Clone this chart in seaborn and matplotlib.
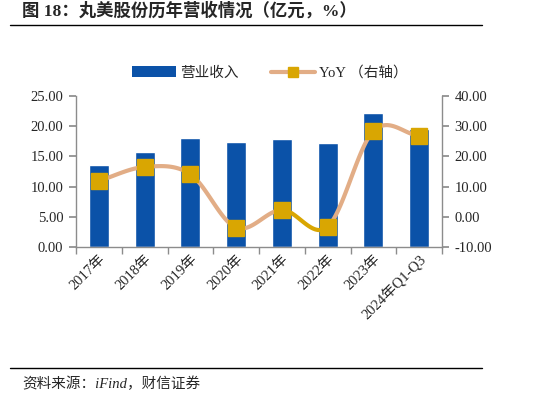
import numpy as np
import matplotlib
matplotlib.use("Agg")
import matplotlib.pyplot as plt
import seaborn as sns
from matplotlib.patches import Patch
from matplotlib.lines import Line2D

sns.set_theme(style="white")
plt.rcParams["font.family"] = ["Liberation Serif", "Noto Sans CJK SC"]

# --- data ---
years = ["2017年", "2018年", "2019年", "2020年", "2021年", "2022年", "2023年", "2024年Q1-Q3"]
revenue = [13.6, 15.8, 18.1, 17.4, 17.9, 17.3, 22.2, 19.6]
yoy = [11.9, 16.5, 14.1, -3.6, 2.3, -3.3, 28.4, 26.8]

BAR_COLOR = "#0B52A8"
LINE_COLOR = "#E2AD86"
MARK_COLOR = "#D9A602"
GREY = "#8C8C8C"


def _smooth(x, y, n=30):
    # catmull-rom pass through the points, like the office "smoothed line"
    x = np.asarray(x, float)
    y = np.asarray(y, float)
    px = np.concatenate([[2 * x[0] - x[1]], x, [2 * x[-1] - x[-2]]])
    py = np.concatenate([[2 * y[0] - y[1]], y, [2 * y[-1] - y[-2]]])
    segs = []
    t = np.linspace(0, 1, n)
    for i in range(1, len(px) - 2):
        sx, sy = [], []
        for p in (px, py):
            p0, p1, p2, p3 = p[i - 1], p[i], p[i + 1], p[i + 2]
            v = 0.5 * ((2 * p1) + (-p0 + p2) * t + (2 * p0 - 5 * p1 + 4 * p2 - p3) * t ** 2
                       + (-p0 + 3 * p1 - 3 * p2 + p3) * t ** 3)
            (sx if p is px else sy).append(v)
        segs.append((sx[0], sy[0]))
    return segs


fig = plt.figure(figsize=(5.58, 3.96), dpi=100)
ax = fig.add_axes([76 / 558, 1 - 247 / 396, 366 / 558, 151 / 396])

sns.barplot(x=years, y=revenue, color=BAR_COLOR, width=0.44, saturation=1, ax=ax)
ax.set_xlim(-0.5, len(years) - 0.5)
ax.set_ylim(0, 25)
ax.set_yticks(np.arange(0, 25.1, 5))
ax.set_yticklabels([f"{v:.2f}" for v in np.arange(0, 25.1, 5)])
ax.set_xlabel("")
ax.set_ylabel("")

# x ticks on category boundaries, labels centered under bars
ax.set_xticks(np.arange(len(years)))
ax.set_xticklabels(years, rotation=45, ha="right", rotation_mode="anchor")
ax.set_xticks(np.arange(-0.5, len(years)), minor=True)
ax.tick_params(axis="x", which="major", length=0, pad=4, labelsize=10.5)
ax.tick_params(axis="x", which="minor", length=5, color=GREY, direction="out", bottom=True)
ax.tick_params(axis="y", length=5, color=GREY, direction="out", left=True, labelsize=10.5, pad=4)

ax2 = ax.twinx()
ax2.set_ylim(-10, 40)
ax2.set_yticks(np.arange(-10, 40.1, 10))
ax2.set_yticklabels([f"{v:.2f}" for v in np.arange(-10, 40.1, 10)])
ax2.tick_params(axis="y", length=5, color=GREY, direction="out", right=True, labelsize=10.5, pad=4)

for a in (ax, ax2):
    for s in a.spines.values():
        s.set_visible(False)
    a.grid(False)
ax.spines["left"].set_visible(True)
ax.spines["bottom"].set_visible(True)
ax2.spines["right"].set_visible(True)
for s in (ax.spines["left"], ax.spines["bottom"], ax2.spines["right"]):
    s.set_color(GREY)
    s.set_linewidth(1)

xs = np.arange(len(years))
segs = _smooth(xs, yoy)
for i, (sx, sy) in enumerate(segs):
    c = MARK_COLOR if i == 4 else LINE_COLOR
    ax2.plot(sx, sy, color=c, lw=3.0, solid_capstyle="round", zorder=3)
ax2.plot(xs, yoy, ls="none", marker="s", ms=11, color=MARK_COLOR, zorder=4)

# legend
handles = [Patch(facecolor=BAR_COLOR, edgecolor="none"),
           Line2D([0], [0], color=LINE_COLOR, lw=3.0, marker="s", ms=6.5,
                  markerfacecolor=MARK_COLOR, markeredgecolor=MARK_COLOR)]
fig.legend(handles, ["营业收入", "YoY （右轴）"], loc="center", ncol=2,
           bbox_to_anchor=(270 / 558, 1 - 73 / 396), frameon=False, fontsize=10.5,
           handlelength=3.0, handleheight=0.8, columnspacing=2.2, handletextpad=0.3)

# title, rules, source
fig.text(22 / 558, 1 - 11 / 396, "图 18：丸美股份历年营收情况（亿元，%）", fontsize=12.5,
         fontweight="bold", va="center", ha="left")
fig.add_artist(Line2D([10 / 558, 482 / 558], [1 - 25 / 396] * 2, color="black", lw=1))
fig.add_artist(Line2D([10 / 558, 482 / 558], [1 - 368 / 396] * 2, color="black", lw=1))
fig.text(22 / 558, 1 - 384 / 396, "资料来源：iFind，财信证券", fontsize=10.5,
         style="italic", va="center", ha="left")

fig.savefig("out.png", dpi=100)
